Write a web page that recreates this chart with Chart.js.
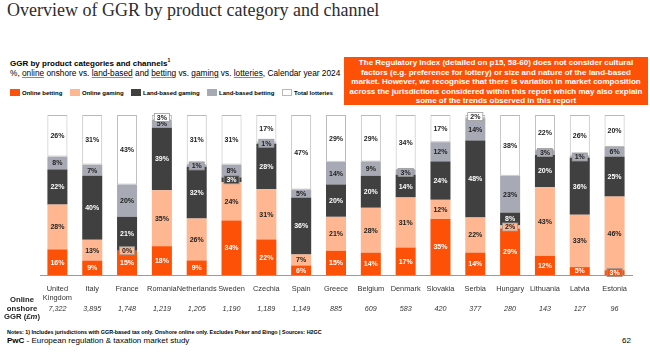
<!DOCTYPE html>
<html>
<head>
<meta charset="utf-8">
<script src="https://cdn.jsdelivr.net/npm/chart.js@4/dist/chart.umd.min.js"></script>
<style>
  body { margin: 0; width: 650px; height: 353px; background: #fff; position: relative; overflow: hidden; font-family: Arial, "Liberation Sans", sans-serif; color: #000; }
  .abs { position: absolute; white-space: nowrap; }
  #title { left: 7px; top: 0px; font-family: "Liberation Serif", serif; font-size: 18px; color: #2d2d2d; }
  #sub1 { left: 10px; top: 57px; font-size: 8px; font-weight: bold; }
  #sub1 sup { font-size: 5px; }
  #sub2 { left: 10px; top: 68px; font-size: 8.3px; }
  #sub2 u { text-decoration-color: #888; }
  .item { position: absolute; top: 89px; font-size: 6px; font-weight: bold; display: flex; align-items: center; white-space: nowrap; }
  .item span { display: inline-block; width: 10px; height: 7px; margin-right: 2px; box-sizing: border-box; }
  #callout { left: 344px; top: 57px; width: 304px; height: 48px; background: #fd5108; color: #fff; font-size: 8px; font-weight: bold; text-align: center; line-height: 9.5px; padding-top: 1px; box-sizing: border-box; }
  #chartBox { left: 0; top: 110px; width: 650px; height: 215px; }
  #ggrLabel { left: 1px; top: 296px; width: 42px; text-align: center; font-size: 7.7px; font-weight: bold; line-height: 8.6px; color: #222; }
  #notes { left: 7px; top: 329px; font-size: 5.4px; font-weight: bold; }
  #footer { left: 7px; top: 336px; font-size: 8px; }
  #page { left: 622px; top: 336px; font-size: 8px; }
</style>
</head>
<body>
<div id="title" class="abs">Overview of GGR by product category and channel</div>
<div id="sub1" class="abs">GGR by product categories and channels<sup>1</sup></div>
<div id="sub2" class="abs">%, <u>online</u> onshore vs. <u>land-based</u> and <u>betting</u> vs. <u>gaming</u> vs. <u>lotteries</u>, Calendar year 2024</div>
<div id="legend"></div>
<div id="callout" class="abs">The Regulatory Index (detailed on p15, 58-60) does not consider cultural<br>factors (e.g. preference for lottery) or size and nature of the land-based<br>market. However, we recognise that there is variation in market composition<br>across the jurisdictions considered within this report which may also explain<br>some of the trends observed in this report</div>
<div id="chartBox" class="abs"><canvas id="chart"></canvas></div>
<div id="ggrLabel" class="abs">Online<br>onshore<br>GGR (<i>£m</i>)</div>
<div id="notes" class="abs">Notes: 1) Includes jurisdictions with GGR-based tax only. Onshore online only. Excludes Poker and Bingo | Sources: H2GC</div>
<div id="footer" class="abs"><b>PwC</b> - European regulation &amp; taxation market study</div>
<div id="page" class="abs">62</div>

<script>
// categories
const countries = [['United', 'Kingdom'], 'Italy', 'France', 'Romania', 'Netherlands', 'Sweden', 'Czechia', 'Spain',
    'Greece', 'Belgium', 'Denmark', 'Slovakia', 'Serbia', 'Hungary', 'Lithuania', 'Latvia', 'Estonia'];

// online onshore GGR, £m
const onlineGGR = [7322, 3895, 1748, 1219, 1205, 1190, 1189, 1149, 885, 609, 583, 420, 377, 280, 143, 127, 96];

// shares in %
const onlineBetting    = [16, 9, 15, 18, 9, 34, 22, 6, 15, 14, 17, 35, 14, 29, 12, 5, 3];
const onlineGaming     = [28, 13, 0, 35, 26, 24, 31, 7, 21, 28, 31, 12, 22, 2, 43, 33, 46];
const landBasedGaming  = [22, 40, 21, 39, 32, 3, 28, 36, 20, 20, 14, 24, 48, 8, 20, 36, 25];
const landBasedBetting = [8, 7, 20, 5, 1, 8, 1, 5, 14, 9, 3, 12, 14, 23, 3, 1, 6];
const totalLotteries   = [26, 31, 43, 3, 31, 31, 17, 47, 29, 29, 34, 17, 2, 38, 22, 26, 20];

const series = [
    { label: 'Online betting', values: onlineBetting, color: '#fd5108', text: '#fff', border: '#fd5108' },
    { label: 'Online gaming', values: onlineGaming, color: '#feb791', text: '#222', border: '#feb791' },
    { label: 'Land-based gaming', values: landBasedGaming, color: '#404040', text: '#fff', border: '#404040' },
    { label: 'Land-based betting', values: landBasedBetting, color: '#a7a9b4', text: '#222', border: '#a7a9b4' },
    { label: 'Total lotteries', values: totalLotteries, color: '#ffffff', text: '#222', border: '#b9b9b9' }
];
const legendX = [10, 70, 131, 207, 282];

// column totals, used to stretch every column to 100%
const totals = countries.map((c, i) => series.reduce((s, d) => s + d.values[i], 0));

// html legend
const legendEl = document.getElementById('legend');
series.forEach((s, k) => {
    const item = document.createElement('div');
    item.className = 'item';
    item.style.left = legendX[k] + 'px';
    item.innerHTML = '<span style="background:' + s.color + ';border:1px solid ' + s.border + '"></span>' + s.label;
    legendEl.appendChild(item);
});

const segmentLabels = {
    id: 'segmentLabels',
    afterDatasetsDraw(chart) {
        const ctx = chart.ctx;
        ctx.save();
        ctx.font = 'bold 7px Arial, "Liberation Sans", sans-serif';
        ctx.textAlign = 'center';
        ctx.textBaseline = 'middle';
        chart.data.datasets.forEach((ds, di) => {
            const s = series[di];
            chart.getDatasetMeta(di).data.forEach((bar, i) => {
                const v = s.values[i];
                const txt = v + '%';
                const cy = (bar.y + bar.base) / 2;
                if (v <= 3) {
                    const w = ctx.measureText(txt).width + 5;
                    ctx.fillStyle = s.color;
                    ctx.fillRect(bar.x - w / 2, cy - 4, w, 8);
                    ctx.strokeStyle = '#9a9a9a';
                    ctx.lineWidth = 0.8;
                    ctx.strokeRect(bar.x - w / 2, cy - 4, w, 8);
                }
                ctx.fillStyle = s.text;
                ctx.fillText(txt, bar.x, cy + 0.5);
            });
        });
        ctx.restore();
    }
};

const ggrRow = {
    id: 'ggrRow',
    afterDraw(chart) {
        const ctx = chart.ctx;
        const x = chart.scales.x;
        ctx.save();
        ctx.font = 'italic 7.2px Arial, "Liberation Sans", sans-serif';
        ctx.fillStyle = '#333';
        ctx.textAlign = 'center';
        ctx.textBaseline = 'middle';
        onlineGGR.forEach((v, i) => {
            ctx.fillText(v.toLocaleString('en-US'), x.getPixelForValue(i), 199);
        });
        ctx.restore();
    }
};

new Chart(document.getElementById('chart'), {
    type: 'bar',
    data: {
        labels: countries,
        datasets: series.map(s => ({
            label: s.label,
            data: s.values.map((v, i) => v / totals[i] * 100),
            backgroundColor: s.color,
            borderColor: s.border,
            borderWidth: s.label === 'Total lotteries' ? 1 : 0,
            borderSkipped: false,
            categoryPercentage: 1,
            barPercentage: 0.575
        }))
    },
    options: {
        responsive: true,
        maintainAspectRatio: false,
        animation: false,
        layout: { padding: { left: 40, right: 18, top: 5, bottom: 0 } },
        plugins: {
            legend: { display: false },
            tooltip: { enabled: false }
        },
        scales: {
            x: {
                stacked: true,
                grid: { display: false },
                border: { display: true, color: '#9a9a9a', width: 1 },
                ticks: {
                    color: '#333',
                    font: { size: 7.4, family: 'Arial, "Liberation Sans", sans-serif' },
                    padding: 2,
                    maxRotation: 0,
                    autoSkip: false
                },
                afterFit(scale) { scale.height = 50; }
            },
            y: {
                stacked: true,
                display: false,
                min: 0,
                max: 100
            }
        }
    },
    plugins: [segmentLabels, ggrRow]
});
</script>
</body>
</html>
